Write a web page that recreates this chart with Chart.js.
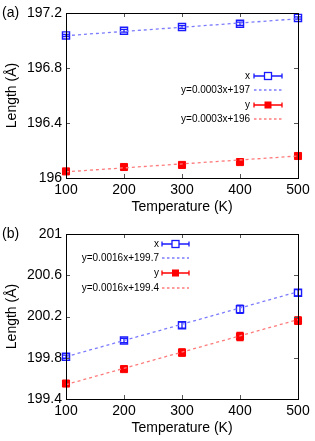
<!DOCTYPE html>
<html>
<head>
<meta charset="utf-8">
<script src="https://cdn.jsdelivr.net/npm/chart.js@4/dist/chart.umd.min.js"></script>
<style>
  body { margin: 0; background: #fff; }
  canvas { display: block; }
</style>
</head>
<body>
<canvas id="chart-a" width="315" height="220"></canvas>
<canvas id="chart-b" width="315" height="221"></canvas>
<script>
const temps = [100, 200, 300, 400, 500];
const xTicks = [100, 200, 300, 400, 500];
const fitTemps = [100, 500];

// panel (a)
const aXLen = [197.037, 197.071, 197.098, 197.122, 197.164];
const aXErr = [0.008, 0.01, 0.01, 0.012, 0.008];
const aYLen = [196.048, 196.08, 196.095, 196.116, 196.16];
const aYErr = [0.008, 0.01, 0.01, 0.015, 0.01];
const aXFit = [197.035, 197.158];
const aYFit = [196.045, 196.16];
const aTicks = [196, 196.4, 196.8, 197.2];
const aLegend = ['x', 'y=0.0003x+197', 'y', 'y=0.0003x+196'];

// panel (b)
const bXLen = [199.81, 199.967, 200.116, 200.27, 200.43];
const bXErr = [0.015, 0.02, 0.03, 0.04, 0.03];
const bYLen = [199.55, 199.69, 199.85, 200.006, 200.16];
const bYErr = [0.015, 0.02, 0.035, 0.04, 0.035];
const bXFit = [199.81, 200.44];
const bYFit = [199.54, 200.17];
const bTicks = [199.4, 199.8, 200.2, 200.6, 201];
const bLegend = ['x', 'y=0.0016x+199.7', 'y', 'y=0.0016x+199.4'];

const BLUE = '#1a1aff';
const RED = '#ff0000';
const BLUE_FIT = '#7b7bff';
const RED_FIT = '#ff7b7b';
const FONT = '"Liberation Sans", Arial, sans-serif';

function errBar(ctx, px, top, bot, half) {
    ctx.beginPath();
    ctx.moveTo(px, top); ctx.lineTo(px, bot);
    ctx.moveTo(px - half, top); ctx.lineTo(px + half, top);
    ctx.moveTo(px - half, bot); ctx.lineTo(px + half, bot);
    ctx.stroke();
}

const decor = {
    id: 'decor',
    beforeDatasetsDraw(chart, args, opts) {
        const ctx = chart.ctx, xs = chart.scales.x, ys = chart.scales.y;
        opts.errors.forEach(e => {
            ctx.save();
            ctx.strokeStyle = e.color;
            ctx.lineWidth = 1.3;
            temps.forEach((t, i) => {
                const px = xs.getPixelForValue(t);
                errBar(ctx, px, ys.getPixelForValue(e.vals[i] + e.err[i]),
                       ys.getPixelForValue(e.vals[i] - e.err[i]), 3.5);
            });
            ctx.restore();
        });
    },
    afterDraw(chart, args, opts) {
        const ctx = chart.ctx, a = chart.chartArea;
        const xs = chart.scales.x, ys = chart.scales.y;
        ctx.save();
        // inward ticks
        ctx.strokeStyle = '#555';
        ctx.lineWidth = 1;
        ctx.beginPath();
        opts.yTicks.forEach(v => {
            const py = Math.round(ys.getPixelForValue(v)) + 0.5;
            ctx.moveTo(a.left, py); ctx.lineTo(a.left + 4, py);
            ctx.moveTo(a.right, py); ctx.lineTo(a.right - 4, py);
        });
        xTicks.forEach(v => {
            const px = Math.round(xs.getPixelForValue(v)) + 0.5;
            ctx.moveTo(px, a.bottom); ctx.lineTo(px, a.bottom - 4);
            ctx.moveTo(px, a.top); ctx.lineTo(px, a.top + 4);
        });
        ctx.stroke();
        // frame
        ctx.strokeStyle = '#000';
        ctx.strokeRect(Math.round(a.left) + 0.5, Math.round(a.top) + 0.5,
                       Math.round(a.right - a.left), Math.round(a.bottom - a.top));

        // legend
        const lg = opts.legend;
        ctx.font = '10px ' + FONT;
        ctx.textAlign = 'right';
        ctx.textBaseline = 'middle';
        lg.items.forEach((it, i) => {
            const y = lg.rows[i];
            ctx.fillStyle = '#000';
            ctx.fillText(it.text, lg.textRight, y);
            const mid = (lg.x0 + lg.x1) / 2;
            if (it.kind === 'fit') {
                ctx.strokeStyle = it.color;
                ctx.lineWidth = 1.3;
                ctx.setLineDash([2.5, 2.5]);
                ctx.beginPath();
                ctx.moveTo(lg.x0, y); ctx.lineTo(lg.x1, y);
                ctx.stroke();
                ctx.setLineDash([]);
            } else {
                ctx.strokeStyle = it.color;
                ctx.lineWidth = 1.3;
                ctx.beginPath();
                ctx.moveTo(lg.x0, y); ctx.lineTo(lg.x1, y);
                ctx.moveTo(lg.x0, y - 2.5); ctx.lineTo(lg.x0, y + 2.5);
                ctx.moveTo(lg.x1, y - 2.5); ctx.lineTo(lg.x1, y + 2.5);
                ctx.stroke();
                if (it.filled) {
                    ctx.fillStyle = it.color;
                    ctx.fillRect(mid - 3.5, y - 3.5, 7, 7);
                } else {
                    ctx.fillStyle = '#fff';
                    ctx.fillRect(mid - 3.5, y - 3.5, 7, 7);
                    ctx.strokeRect(mid - 3.5, y - 3.5, 7, 7);
                }
            }
        });

        // panel label
        ctx.font = '14px ' + FONT;
        ctx.textAlign = 'left';
        ctx.fillStyle = '#000';
        ctx.fillText(opts.panel, 2, opts.panelY);
        ctx.restore();
    }
};

function makeChart(id, xLen, xErr, yLen, yErr, xFit, yFit, yTicks, yMin, yMax, legendText, legendPos, panel, panelY) {
    const pts = vals => temps.map((t, i) => ({ x: t, y: vals[i] }));
    const fit = vals => fitTemps.map((t, i) => ({ x: t, y: vals[i] }));
    const axisFont = { family: FONT, size: 14 };
    return new Chart(document.getElementById(id), {
        type: 'scatter',
        data: {
            datasets: [
                { data: fit(xFit), showLine: true, borderColor: BLUE_FIT, borderWidth: 1.3,
                  borderDash: [3, 3], pointRadius: 0, clip: false },
                { data: fit(yFit), showLine: true, borderColor: RED_FIT, borderWidth: 1.3,
                  borderDash: [3, 3], pointRadius: 0, clip: false },
                { data: pts(xLen), pointStyle: 'rect', pointRadius: 5, borderColor: BLUE,
                  backgroundColor: 'rgba(0,0,0,0)', borderWidth: 1.4, clip: false },
                { data: pts(yLen), pointStyle: 'rect', pointRadius: 5, borderColor: RED,
                  backgroundColor: RED, borderWidth: 1, clip: false }
            ]
        },
        options: {
            responsive: false,
            animation: false,
            maintainAspectRatio: false,
            layout: { padding: { left: 0, right: 17, top: panelY, bottom: 0 } },
            plugins: {
                legend: { display: false },
                tooltip: { enabled: false },
                decor: {
                    errors: [
                        { vals: xLen, err: xErr, color: BLUE },
                        { vals: yLen, err: yErr, color: RED }
                    ],
                    yTicks: yTicks,
                    panel: panel,
                    panelY: panelY,
                    legend: Object.assign({}, legendPos, {
                        items: [
                            { text: legendText[0], kind: 'err', color: BLUE, filled: false },
                            { text: legendText[1], kind: 'fit', color: BLUE_FIT },
                            { text: legendText[2], kind: 'err', color: RED, filled: true },
                            { text: legendText[3], kind: 'fit', color: RED_FIT }
                        ]
                    })
                }
            },
            scales: {
                x: {
                    type: 'linear', min: 100, max: 500,
                    afterBuildTicks: s => { s.ticks = xTicks.map(v => ({ value: v })); },
                    afterFit: s => { s.height = 42; },
                    grid: { display: false, drawTicks: false },
                    border: { display: false },
                    ticks: { color: '#000', font: axisFont, padding: 4, maxRotation: 0, callback: v => String(v) },
                    title: { display: true, text: 'Temperature (K)', color: '#000', font: axisFont,
                             padding: { top: 0, bottom: 4 } }
                },
                y: {
                    type: 'linear', min: yMin, max: yMax,
                    afterBuildTicks: s => { s.ticks = yTicks.map(v => ({ value: v })); },
                    afterFit: s => { s.width = 66; },
                    grid: { display: false, drawTicks: false },
                    border: { display: false },
                    ticks: { color: '#000', font: axisFont, padding: 4, callback: v => String(v) },
                    title: { display: true, text: 'Length (Å)', color: '#000', font: axisFont,
                             padding: { top: 4, bottom: 0 } }
                }
            }
        },
        plugins: [decor]
    });
}

makeChart('chart-a', aXLen, aXErr, aYLen, aYErr, aXFit, aYFit, aTicks, 196, 197.2, aLegend,
          { textRight: 250, x0: 254, x1: 282, rows: [76, 90, 105, 119] }, '(a)', 13);
makeChart('chart-b', bXLen, bXErr, bYLen, bYErr, bXFit, bYFit, bTicks, 199.4, 201, bLegend,
          { textRight: 159, x0: 162, x1: 189, rows: [24, 38, 53, 68] }, '(b)', 14);
</script>
</body>
</html>
